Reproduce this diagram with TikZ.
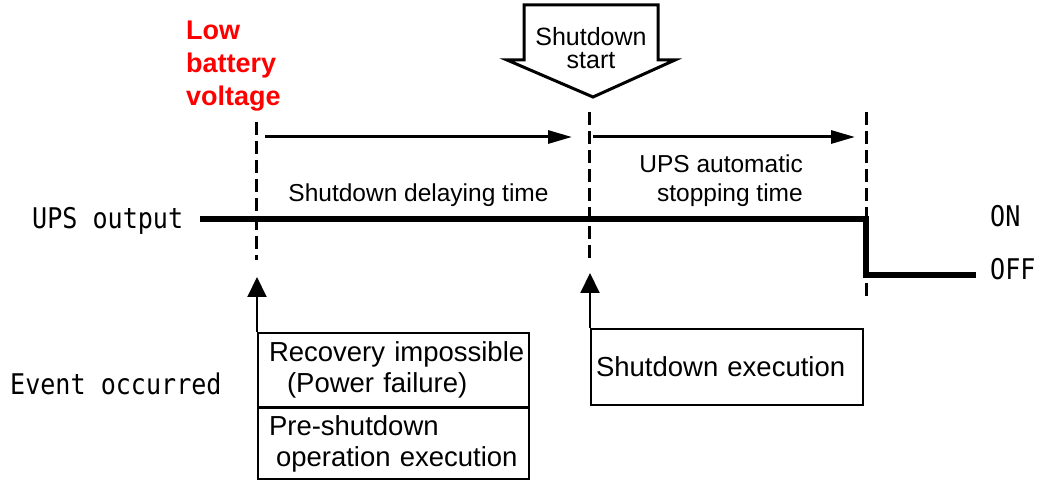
\documentclass[tikz,border=0pt]{standalone}
\usepackage{fontspec}
\setmainfont{Liberation Sans}
\newfontfamily\gothic[FakeStretch=0.88]{DejaVu Sans Mono}
\usetikzlibrary{arrows.meta}

\begin{document}
\begin{tikzpicture}[x=1pt,y=1pt,
  timeline/.style={line width=3pt,dash pattern=on 13pt off 6pt},
  span/.style={-{Triangle[length=24pt,width=13pt]},line width=3pt},
  cause/.style={-{Triangle[length=20pt,width=19pt]},line width=2pt},
  evbox/.style={draw,line width=2pt,anchor=north west,align=left,inner xsep=4pt,inner ysep=0pt,
    text width=263pt,font=\fontsize{27.5}{31}\selectfont},
  lbl/.style={font=\fontsize{24.5}{29}\selectfont,inner sep=0pt},
  mono/.style={font=\gothic\fontsize{28.5}{30}\selectfont,inner sep=0pt}]
\useasboundingbox (0,0) rectangle (1042,482);

% shutdown start block arrow
\draw[line width=3pt,line join=miter] (524,477) -- (658,477) -- (658,422) -- (675,422)
  -- (593,385) -- (507,422) -- (524,422) -- cycle;
\node[inner sep=0pt,align=center,font=\fontsize{25}{23}\selectfont] (start) at (591,434) {Shutdown\\start};

\node[anchor=north west,inner sep=0pt,align=left,text=red,
  font=\bfseries\fontsize{27}{33}\selectfont] (lowbat) at (186,461) {Low\\battery\\voltage};

% time marks
\draw[timeline] (256,360) -- (256,222);
\draw[timeline] (589,370) -- (589,220);
\draw[timeline] (866,370) -- (866,182);

\coordinate (s1) at (265,345);
\coordinate (e1) at (572,345);
\coordinate (s2) at (593,345);
\coordinate (e2) at (855,345);
\draw[span] (s1) -- (e1);
\draw[span] (s2) -- (e2);
\node[lbl,anchor=base] (delay) at (418.5,280) {Shutdown delaying time};
\node[lbl,anchor=north east,align=right] (autostop) at (803,327) {UPS automatic\\stopping time};

% UPS output
\node[mono,anchor=base west] (output) at (32,253) {UPS output};
\draw[line width=6pt,line join=miter] (200,263) -- (866,263) -- (866,207) -- (976,207);
\node[mono,anchor=base west] (on) at (990,255) {ON};
\node[mono,anchor=base west] (off) at (990,202) {OFF};

% events
\node[mono,anchor=base west] (event) at (10,87) {Event occurred};
\node[evbox,minimum height=74pt] (recov) at (257,150) {\hspace*{7pt}Recovery impossible\\\hspace*{25pt}(Power failure)};
\node[evbox,minimum height=71pt] (preshut) at (257,75) {\hspace*{7pt}Pre-shutdown\\\hspace*{14pt}operation execution};
\node[evbox,minimum height=76pt,inner xsep=5pt,text width=262pt] (exec) at (590,154) {Shutdown execution};

\coordinate (t1) at (257,205);
\coordinate (t2) at (590,209);
\draw[cause] (recov.north west) -- (t1);
\draw[cause] (exec.north west) -- (t2);
\end{tikzpicture}
\end{document}
